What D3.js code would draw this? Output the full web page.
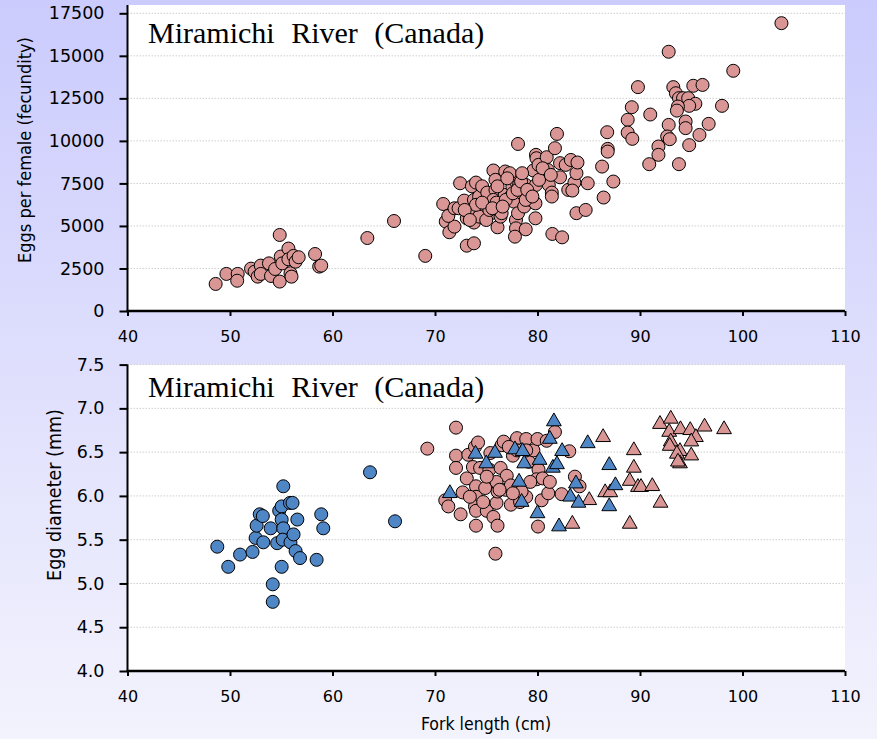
<!DOCTYPE html>
<html>
<head>
<meta charset="utf-8">
<script src="https://cdn.jsdelivr.net/npm/d3@7"></script>
<style>
  body { margin: 0; }
  svg { display: block; }
</style>
</head>
<body>
<div id="chart"></div>
<script>
// tick values
const lengthTicks = [40, 50, 60, 70, 80, 90, 100, 110]
const eggTicks = [0, 2500, 5000, 7500, 10000, 12500, 15000, 17500]
const diameterTicks = [4.0, 4.5, 5.0, 5.5, 6.0, 6.5, 7.0, 7.5]

const titleText = 'Miramichi River (Canada)'

// fork length (cm), eggs per female
const fecundity = [
  [48.6, 1590], [49.65, 2180], [50.75, 2180], [50.7, 1780], [52.05, 2490], [52.4, 2310],
  [52.7, 2020], [53.0, 2670], [53.0, 2180], [53.8, 2800], [54.0, 2060], [54.4, 2470],
  [54.85, 4470], [54.85, 1730], [54.95, 3200], [55.1, 2800], [55.7, 3670], [55.7, 3040],
  [55.9, 2220], [56.0, 2020], [56.2, 3240], [56.4, 2900], [56.7, 3160], [58.3, 3350],
  [58.7, 2610], [58.9, 2670], [63.4, 4290], [66.0, 5290], [69.05, 3240],
  [70.8, 6290], [72.45, 7510], [71.05, 5260], [71.4, 4630], [71.9, 4960], [71.3, 5590],
  [71.9, 6040], [72.3, 6040], [72.85, 6490], [73.1, 5450], [73.1, 3840], [73.8, 3980],
  [73.6, 7330], [74.0, 7550], [73.8, 6530], [73.8, 5750], [73.8, 5200], [74.3, 6730],
  [74.6, 7330], [74.9, 6100], [74.8, 5450], [75.1, 6960], [75.7, 8260], [75.9, 7710],
  [75.9, 7120], [75.7, 6530], [75.45, 5750], [76.1, 4920], [76.25, 6040], [76.4, 5550],
  [76.8, 6820], [76.85, 8200], [77.4, 6730], [77.55, 7330], [77.7, 7900], [77.9, 7610],
  [77.7, 6430], [77.9, 5350], [77.9, 4860], [77.8, 4370], [78.1, 9820], [78.1, 5750],
  [78.2, 7410], [78.5, 6920], [78.7, 6140], [78.85, 4800], [78.85, 7410], [79.35, 6530],
  [79.8, 5450], [79.8, 6330], [79.85, 7410], [79.85, 9180], [79.9, 8980], [79.6, 8260],
  [80.1, 8590], [80.5, 7800], [80.9, 9040], [81.0, 8290], [80.8, 7710], [81.1, 7410],
  [81.4, 6960], [81.4, 6730], [81.45, 4530], [81.7, 9570], [81.9, 10410], [82.2, 8690],
  [82.2, 7860], [82.4, 4330], [82.75, 8590], [83.0, 7120], [83.25, 8880], [83.6, 7550],
  [83.8, 8100], [83.9, 8730], [83.4, 7080], [83.8, 5750], [84.7, 5940], [84.9, 7510],
  [86.3, 8490], [86.45, 6670], [86.8, 10510], [86.85, 9530], [86.85, 9370], [87.4, 7610],
  [88.8, 11240], [88.8, 10490], [89.2, 11980], [89.25, 10120], [89.8, 13160],
  [73.3, 5750], [74.3, 5550], [75.0, 5350], [75.3, 5940], [76.0, 6370], [76.5, 5750],
  [76.9, 6530], [77.3, 8100], [77.6, 6920], [78.05, 7120], [78.4, 7610], [78.85, 6530],
  [79.0, 7120], [79.5, 6730], [80.15, 7710], [80.5, 8390], [81.3, 8000], [74.0, 6240],
  [72.9, 5940], [73.4, 5350], [74.6, 6370], [75.6, 6040], [76.1, 7330], [76.6, 6140],
  [77.05, 7800], [78.5, 8100],
  [103.8, 16920], [92.8, 15240], [99.1, 14120], [93.25, 13160], [93.5, 12800], [93.8, 12510],
  [94.2, 12510], [94.7, 12510], [95.2, 13240], [96.1, 13290], [95.4, 12180], [94.8, 12060],
  [93.7, 12020], [93.6, 11780], [91.0, 11550], [98.0, 12060], [92.8, 10940], [94.45, 11140],
  [94.45, 10750], [96.7, 11000], [95.8, 10350], [92.65, 10260], [92.9, 10100], [94.8, 9750],
  [91.8, 9670], [91.8, 9180], [90.9, 8630], [93.8, 8630]
]

// fork length (cm), egg diameter (mm)
const blueCircles = [
  [48.76, 5.42], [49.83, 5.19], [50.98, 5.33], [52.2, 5.36], [52.5, 5.52], [52.6, 5.66],
  [52.9, 5.79], [53.2, 5.77], [53.25, 5.47], [53.97, 5.63], [54.17, 4.99], [54.17, 4.79],
  [54.6, 5.46], [54.8, 5.83], [55.04, 5.88], [55.04, 5.73], [55.2, 6.11], [55.2, 5.63],
  [55.14, 5.50], [55.04, 5.19], [55.85, 5.92], [56.1, 5.92], [55.9, 5.47], [56.2, 5.56],
  [56.4, 5.37], [56.57, 5.73], [56.83, 5.29], [58.45, 5.27], [58.9, 5.79], [59.1, 5.63],
  [63.66, 6.27], [66.1, 5.71]
]

const pinkCircles = [
  [69.25, 6.54], [72.05, 6.78], [72.05, 6.46], [72.05, 6.32], [71.0, 5.95], [71.3, 5.88],
  [72.5, 5.79], [72.7, 6.04], [73.1, 6.20], [73.25, 6.47], [73.7, 6.33], [73.9, 6.56],
  [74.2, 6.61], [74.0, 6.11], [74.0, 5.99], [73.9, 5.88], [74.0, 5.83], [74.0, 5.66],
  [74.4, 6.32], [74.9, 6.09], [75.05, 5.83], [75.3, 6.30], [75.7, 5.76], [76.0, 5.92],
  [76.1, 6.05], [76.1, 5.66], [75.9, 5.34], [76.4, 6.32], [76.5, 6.58], [76.7, 6.62],
  [77.0, 6.23], [76.9, 6.07], [77.4, 5.90], [77.6, 6.46], [78.0, 6.66], [78.0, 6.52],
  [78.1, 6.11], [78.3, 5.93], [78.9, 6.65], [79.15, 6.39], [78.9, 5.99], [79.6, 6.52],
  [80.0, 6.65], [80.1, 6.30], [79.9, 6.19], [80.5, 6.20], [80.4, 5.95], [80.05, 5.65],
  [81.05, 6.03], [81.2, 6.16], [80.9, 6.63], [81.7, 6.73], [82.35, 6.02], [83.1, 6.51],
  [83.65, 6.22], [84.1, 6.11], [76.0, 6.16], [75.05, 6.22], [75.4, 6.49], [77.4, 6.12],
  [78.45, 6.05], [79.3, 6.16], [73.4, 5.99], [74.7, 5.93], [77.6, 6.03], [76.3, 6.07],
  [77.2, 6.56], [78.9, 6.52]
]

const blueTriangles = [
  [71.45, 6.03], [73.95, 6.48], [75.0, 6.37], [75.85, 6.49], [77.8, 6.53], [78.55, 6.51],
  [78.7, 6.37], [78.2, 6.16], [78.45, 5.93], [80.2, 6.41], [80.0, 5.80], [81.2, 6.65],
  [81.6, 6.85], [81.5, 6.32], [81.9, 6.36], [82.4, 6.51], [82.1, 5.65], [83.2, 5.99],
  [83.75, 6.14], [84.0, 5.92], [84.9, 6.60], [87.0, 6.35], [87.6, 6.12], [87.0, 5.88]
]

const pinkTriangles = [
  [83.4, 5.68], [85.05, 5.95], [86.4, 6.67], [86.6, 6.04], [87.1, 6.04], [89.0, 5.68],
  [89.0, 6.17], [89.4, 6.52], [89.4, 6.32], [89.8, 6.10], [90.1, 6.10], [91.2, 6.11],
  [92.0, 5.92], [91.95, 6.82], [93.0, 6.88], [92.85, 6.73], [93.95, 6.76], [94.9, 6.75],
  [95.45, 6.67], [96.3, 6.79], [98.2, 6.76], [93.0, 6.62], [92.9, 6.57], [95.0, 6.62],
  [93.9, 6.51], [93.6, 6.48], [95.0, 6.46], [93.9, 6.37], [93.7, 6.39]
]

const width = 877
const height = 739
const pink = '#d99694'
const blue = '#4f86c6'

const svg = d3.select('#chart')
  .append('svg')
  .attr('width', width)
  .attr('height', height)

const grad = svg.append('defs')
  .append('linearGradient')
  .attr('id', 'bg')
  .attr('x1', 0).attr('y1', 0).attr('x2', 0).attr('y2', 1)
grad.append('stop').attr('offset', '0%').attr('stop-color', '#cbcbfd')
grad.append('stop').attr('offset', '100%').attr('stop-color', '#f3f3fd')

svg.append('rect')
  .attr('width', width)
  .attr('height', height)
  .attr('fill', 'url(#bg)')

const x = d3.scaleLinear().domain([40, 110]).range([127.5, 845])

function drawPanel(opts) {
  const y = d3.scaleLinear().domain(opts.domain).range(opts.range)
  const g = svg.append('g')

  g.append('rect')
    .attr('x', x(40))
    .attr('y', opts.plotTop)
    .attr('width', x(110) - x(40))
    .attr('height', y(opts.domain[0]) - opts.plotTop)
    .attr('fill', '#ffffff')

  // dotted grid
  g.selectAll('.grid')
    .data(opts.ticks.slice(1))
    .enter()
    .append('line')
    .attr('class', 'grid')
    .attr('x1', x(40))
    .attr('x2', x(110))
    .attr('y1', d => y(d))
    .attr('y2', d => y(d))
    .attr('stroke', '#cfcfcf')
    .attr('stroke-width', 1)
    .attr('stroke-dasharray', '1.5,1.5')

  const yAxis = g.append('g')
    .attr('transform', `translate(${x(40)},0)`)
    .call(d3.axisLeft(y).tickValues(opts.ticks).tickFormat(opts.format)
      .tickSize(8).tickPadding(15))
  yAxis.select('.domain').remove()
  yAxis.selectAll('line').attr('stroke', '#000').attr('stroke-width', 2)
  yAxis.selectAll('text')
    .attr('fill', '#000')
    .style('font-family', '"DejaVu Sans", sans-serif')
    .style('font-size', '17.5px')

  const xAxis = g.append('g')
    .attr('transform', `translate(0,${y(opts.domain[0])})`)
    .call(d3.axisBottom(x).tickValues(lengthTicks).tickFormat(d3.format('d'))
      .tickSize(5).tickPadding(15))
  xAxis.select('.domain').remove()
  xAxis.selectAll('line').attr('stroke', '#000').attr('stroke-width', 2)
  xAxis.selectAll('text')
    .attr('fill', '#000')
    .style('font-family', '"DejaVu Sans", sans-serif')
    .style('font-size', '16px')

  // axis lines
  g.append('line')
    .attr('x1', x(40)).attr('x2', x(40))
    .attr('y1', opts.plotTop).attr('y2', y(opts.domain[0]) + 1)
    .attr('stroke', '#000').attr('stroke-width', 2)
  g.append('line')
    .attr('x1', x(40) - 1).attr('x2', x(110))
    .attr('y1', y(opts.domain[0])).attr('y2', y(opts.domain[0]))
    .attr('stroke', '#000').attr('stroke-width', 2.5)

  g.append('text')
    .attr('x', 148)
    .attr('y', opts.titleY)
    .style('font-family', '"Liberation Serif", "Times New Roman", serif')
    .style('font-size', '30px')
    .style('word-spacing', '9px')
    .attr('fill', '#000')
    .text(titleText)

  g.append('text')
    .attr('transform', `translate(${opts.labelX},${opts.labelY}) rotate(-90)`)
    .attr('text-anchor', 'middle')
    .style('font-family', '"DejaVu Sans Condensed", "DejaVu Sans", sans-serif')
    .style('font-stretch', 'condensed')
    .style('font-size', opts.labelSize)
    .attr('fill', '#000')
    .text(opts.label)

  return {g, y}
}

function addSeries(panel, data, color, shape) {
  const sym = d3.symbol()
    .type(shape === 'triangle' ? d3.symbolTriangle : d3.symbolCircle)
    .size(shape === 'triangle' ? 95 : 133)
  panel.g.append('g')
    .selectAll('path')
    .data(data)
    .enter()
    .append('path')
    .attr('d', sym)
    .attr('transform', d => `translate(${x(d[0])},${panel.y(d[1])})`)
    .attr('fill', color)
    .attr('stroke', '#000')
    .attr('stroke-width', 1)
}

const topPanel = drawPanel({
  domain: [0, 17500],
  range: [311, 13.3],
  plotTop: 5,
  ticks: eggTicks,
  format: d3.format('d'),
  titleY: 43,
  label: 'Eggs per female (fecundity)',
  labelX: 31,
  labelY: 150,
  labelSize: '18px'
})
addSeries(topPanel, fecundity, pink, 'circle')

const bottomPanel = drawPanel({
  domain: [4.0, 7.5],
  range: [671, 364.6],
  plotTop: 364.6,
  ticks: diameterTicks,
  format: d3.format('.1f'),
  titleY: 397,
  label: 'Egg diameter (mm)',
  labelX: 61,
  labelY: 495,
  labelSize: '19.5px'
})
addSeries(bottomPanel, blueCircles, blue, 'circle')
addSeries(bottomPanel, pinkCircles, pink, 'circle')
addSeries(bottomPanel, pinkTriangles, pink, 'triangle')
addSeries(bottomPanel, blueTriangles, blue, 'triangle')

svg.append('text')
  .attr('x', 486)
  .attr('y', 730)
  .attr('text-anchor', 'middle')
  .style('font-family', '"DejaVu Sans Condensed", "DejaVu Sans", sans-serif')
  .style('font-stretch', 'condensed')
  .style('font-size', '17.5px')
  .attr('fill', '#000')
  .text('Fork length (cm)')
</script>
</body>
</html>
